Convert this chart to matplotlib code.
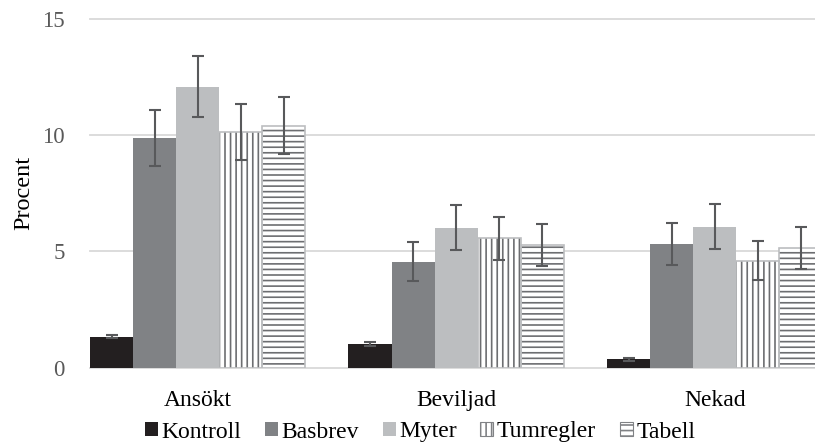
import numpy as np
import matplotlib
matplotlib.use("Agg")
import matplotlib.pyplot as plt
from matplotlib.patches import Patch

categories = ["Ansökt", "Beviljad", "Nekad"]
series = ["Kontroll", "Basbrev", "Myter", "Tumregler", "Tabell"]
values = {
    "Kontroll":  [1.33, 1.00, 0.35],
    "Basbrev":   [9.90, 4.56, 5.31],
    "Myter":     [12.10, 6.02, 6.07],
    "Tumregler": [10.16, 5.56, 4.60],
    "Tabell":    [10.41, 5.27, 5.14],
}
errors = {
    "Kontroll":  [0.08, 0.08, 0.05],
    "Basbrev":   [1.20, 0.84, 0.90],
    "Myter":     [1.31, 0.97, 0.98],
    "Tumregler": [1.20, 0.92, 0.84],
    "Tabell":    [1.23, 0.91, 0.90],
}
yticks = [0, 5, 10, 15]

plt.rcParams['font.family'] = ['Liberation Serif', 'DejaVu Serif']
plt.rcParams['hatch.linewidth'] = 1.2

styles = {
    "Kontroll":  dict(fc="#231f20", hatch=None),
    "Basbrev":   dict(fc="#808285", hatch=None),
    "Myter":     dict(fc="#bcbec0", hatch=None),
    "Tumregler": dict(fc="white", hatch="|||"),
    "Tabell":    dict(fc="white", hatch="---"),
}

fig = plt.figure(figsize=(8.15, 4.45), dpi=100)
ax = fig.add_axes([90/815, 77.5/445, 725/815, 348.2/445])

x = np.arange(len(categories))
w = 1/6
for i, s in enumerate(series):
    pos = x + (i - 2) * w
    st = styles[s]
    if st["hatch"]:
        ax.bar(pos, values[s], width=w, color="white", edgecolor="#6d6e71",
               hatch=st["hatch"], linewidth=0, zorder=2)
        ax.bar(pos, values[s], width=w, facecolor="none", edgecolor="#bcbec0",
               linewidth=1.2, zorder=2.1)
    else:
        ax.bar(pos, values[s], width=w, color=st["fc"], linewidth=0, zorder=2)
    ax.errorbar(pos, values[s], yerr=errors[s], fmt="none", ecolor="#58595b",
                elinewidth=1.5, capsize=4, capthick=1.5, zorder=3)

for yv in yticks:
    ax.axhline(yv, color="#d9d9d9", linewidth=1.3, zorder=1, clip_on=False)

ax.set_xlim(-2.5 * w, 2.388)
ax.set_ylim(0, 15)
ax.set_yticks(yticks)
ax.set_yticklabels([str(v) for v in yticks], color="#595959", fontsize=16.5)
ax.set_xticks(x)
ax.set_xticklabels(categories, fontsize=17, color="black")
ax.tick_params(axis="both", length=0)
ax.tick_params(axis="y", pad=18)
ax.tick_params(axis="x", pad=16)
for sp in ax.spines.values():
    sp.set_visible(False)
ax.set_ylabel("Procent", fontsize=17.5, labelpad=6)

handles = []
for s in series:
    st = styles[s]
    if st["hatch"]:
        handles.append(Patch(facecolor="white", edgecolor="#808285", hatch=st["hatch"], linewidth=0.8))
    else:
        handles.append(Patch(facecolor=st["fc"], edgecolor="none"))
fig.legend(handles, series, loc="center", bbox_to_anchor=(420/815, 1 - 432/445),
           ncol=5, frameon=False, fontsize=17, handlelength=0.55, handleheight=0.55,
           handletextpad=0.15, columnspacing=1.0, borderaxespad=0, borderpad=0)

fig.savefig("out.png", dpi=100)
